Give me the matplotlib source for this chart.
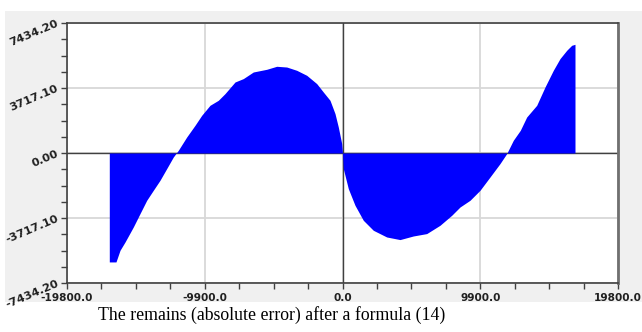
import matplotlib
matplotlib.use("Agg")
import matplotlib.pyplot as plt
from matplotlib.patches import Rectangle
from matplotlib.ticker import MultipleLocator

# --- data ---
x_pos = [-16760, -16280, -15990, -15630, -15035, -14676, -14072, -13598, -13117,
         -12635, -12160, -11801, -11197, -10600, -10119, -9523, -8926, -8445,
         -7726, -7130, -6411, -5448, -4729, -4010, -3292, -2573, -1854, -1380,
         -898, -539, -302, -57, 0, 57, 417, 898, 1495, 2214, 3177, 4133, 5088,
         6051, 7007, 7848, 8445, 9163, 9882, 10601, 11319, 11801, 12275, 12779,
         13238, 13957, 14554, 15150, 15632, 16113, 16472, 16709]
remains = [-6230, -6230, -5564, -5089, -4231, -3660, -2705, -2133, -1561,
           -892, -229, 154, 915, 1584, 2156, 2728, 3013, 3396,
           4060, 4254, 4632, 4786, 4958, 4917, 4729, 4443, 3968, 3488,
           3013, 2253, 1487, 537, 0, -892, -2036, -2991, -3848, -4420, -4803, -4952, -4746,
           -4609, -4134, -3562, -3088, -2705, -2133, -1372, -606, -34, 726, 1298,
           2058, 2727, 3774, 4728, 5398, 5872, 6158, 6215]

x_ticks = [-19800.0, -9900.0, 0.0, 9900.0, 19800.0]
y_ticks = [-7434.20, -3717.10, 0.00, 3717.10, 7434.20]
caption = "The remains (absolute error) after a formula (14)"

W, H = 642, 332
fig = plt.figure(figsize=(W / 100, H / 100), dpi=100)
fig.patch.set_facecolor("white")
bg = Rectangle((5 / W, 1 - 302 / H), 1 - 5 / W, (302 - 11) / H,
               transform=fig.transFigure, facecolor="#f0f0f0",
               edgecolor="none", zorder=-10)
fig.patches.append(bg)

ax = fig.add_axes([67 / W, 1 - 283 / H, (618 - 67) / W, (283 - 23) / H])
ax.set_zorder(1)
ax.set_facecolor("white")
ax.set_xlim(x_ticks[0], x_ticks[-1])
ax.set_ylim(y_ticks[0], y_ticks[-1])

ax.set_xticks(x_ticks)
ax.set_yticks(y_ticks)
ax.xaxis.set_minor_locator(MultipleLocator(2475))
ax.yaxis.set_minor_locator(MultipleLocator(929.275))
ax.set_xticklabels([f"{v:.1f}" for v in x_ticks])
ax.set_yticklabels([f"{v:.2f}" for v in y_ticks])

for lab in ax.get_xticklabels():
    lab.set(family="DejaVu Sans", weight="bold", size=7.6, color="#202020")
for lab in ax.get_yticklabels():
    lab.set(family="DejaVu Sans", weight="bold", size=8.2, color="#202020")
    lab.set_rotation(23)
    lab.set_rotation_mode("anchor")
    lab.set_ha("right")
    lab.set_va("center")

ax.tick_params(axis="both", which="both", direction="out", color="#404040",
               width=1.0, length=4)
ax.tick_params(axis="x", which="major", pad=3)
ax.tick_params(axis="y", which="major", pad=2.5)
ax.tick_params(top=False, right=False)

ax.grid(True, which="major", color="#d8d8d8", linewidth=1.3, zorder=0)
ax.set_axisbelow(True)
for s in ["left", "bottom", "top"]:
    ax.spines[s].set_color("#404040")
    ax.spines[s].set_linewidth(1.2)
ax.spines["right"].set_color("#707070")
ax.spines["right"].set_linewidth(2.0)

ax.axhline(0, color="#404040", linewidth=1.0, zorder=1)
ax.axvline(0, color="#404040", linewidth=1.0, zorder=1)

ax.fill_between(x_pos, remains, 0, color="#0000ff", linewidth=0, zorder=2)

fig.text(272 / W, 1 - 320 / H, caption, family="Liberation Serif", size=12.8,
         ha="center", va="baseline", color="black", zorder=5)

fig.savefig("out.png", dpi=100, facecolor=fig.get_facecolor())
